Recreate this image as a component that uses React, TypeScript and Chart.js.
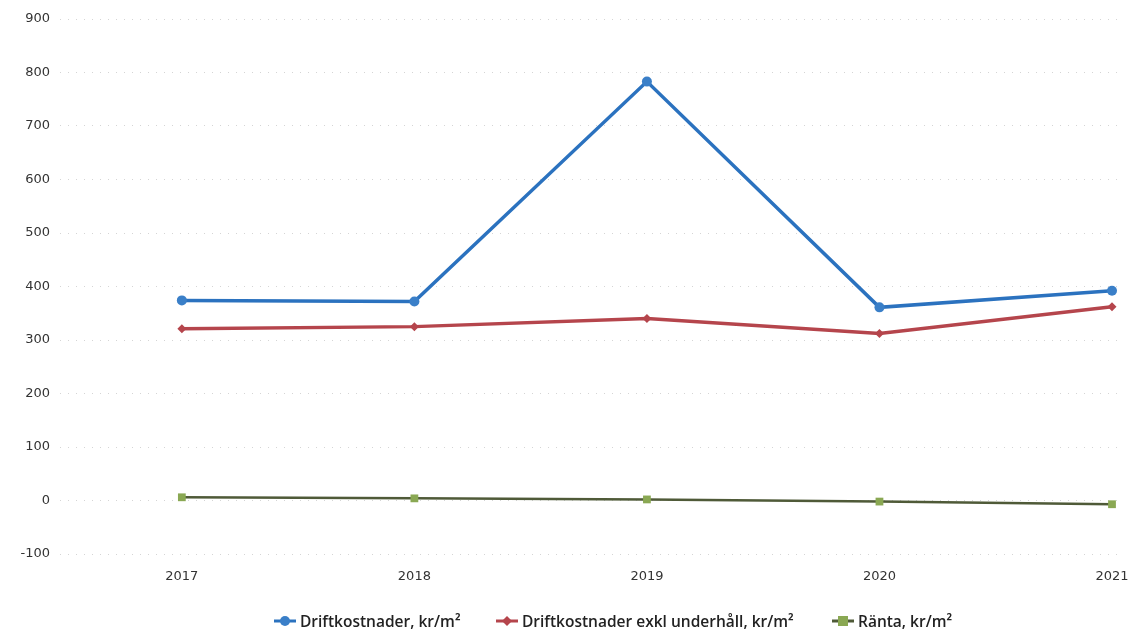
import React, { useEffect, useRef } from "react";
import { Chart, registerables } from "chart.js";

Chart.register(...registerables);

const years = [2017, 2018, 2019, 2020, 2021];
const driftkostnader = [374, 372, 783, 361, 392];
const driftExklUnderhall = [321, 325, 340, 312, 362];
const ranta = [6, 4, 2, -2, -7];
const yTicks = [-100, 0, 100, 200, 300, 400, 500, 600, 700, 800, 900];

const seriesLabels = [
  "Driftkostnader, kr/m²",
  "Driftkostnader exkl underhåll, kr/m²",
  "Ränta, kr/m²",
];
const seriesColors = ["#2b72bf", "#b5454c", "#4f5a38"];
const markerColors = ["#3a7fc8", "#b5454c", "#8aa853"];

const toPoints = (vals: number[]) => vals.map((v, i) => ({ x: years[i], y: v }));

function LegendMarker({ idx }: { idx: number }) {
  const c = markerColors[idx];
  return (
    <svg width={22} height={12} style={{ marginRight: 4, verticalAlign: "middle" }}>
      <line x1={0} y1={6} x2={22} y2={6} stroke={seriesColors[idx]} strokeWidth={3} />
      {idx === 0 && <circle cx={11} cy={6} r={5} fill={c} />}
      {idx === 1 && <polygon points="11,1 16,6 11,11 6,6" fill={c} />}
      {idx === 2 && <rect x={6} y={1} width={10} height={10} fill={c} />}
    </svg>
  );
}

export default function App() {
  const ref = useRef<HTMLCanvasElement | null>(null);
  useEffect(() => {
    document.body.style.margin = "0";
    const ctx = ref.current!.getContext("2d")!;
    const chart = new Chart(ctx, {
      type: "line",
      data: {
        datasets: [
          {
            label: seriesLabels[0],
            data: toPoints(driftkostnader),
            borderColor: seriesColors[0],
            backgroundColor: markerColors[0],
            borderWidth: 3.5,
            pointStyle: "circle",
            pointRadius: 5,
            pointBorderWidth: 0,
          },
          {
            label: seriesLabels[1],
            data: toPoints(driftExklUnderhall),
            borderColor: seriesColors[1],
            backgroundColor: markerColors[1],
            borderWidth: 3.5,
            pointStyle: "rectRot",
            pointRadius: 4.5,
            pointBorderWidth: 0,
          },
          {
            label: seriesLabels[2],
            data: toPoints(ranta),
            borderColor: seriesColors[2],
            backgroundColor: markerColors[2],
            borderWidth: 2.5,
            pointStyle: "rect",
            pointRadius: 5.5,
            pointBorderWidth: 0,
          },
        ],
      },
      options: {
        responsive: false,
        animation: false,
        layout: { padding: { left: 0, right: 7, top: 19, bottom: 0 } },
        plugins: {
          legend: { display: false },
          tooltip: { enabled: false },
        },
        scales: {
          x: {
            type: "linear",
            min: 2016.476,
            max: 2021.043,
            afterBuildTicks: (scale: any) => {
              scale.ticks = years.map((y) => ({ value: y }));
            },
            afterFit: (scale: any) => {
              scale.height = 78;
              scale.paddingLeft = 0;
              scale.paddingRight = 0;
            },
            grid: { display: false, drawTicks: false },
            border: { display: false },
            ticks: {
              padding: 15,
              color: "#333",
              font: { family: "'DejaVu Sans', sans-serif", size: 13 },
              callback: (v: any) => String(v),
            },
          },
          y: {
            min: -100,
            max: 900,
            afterBuildTicks: (scale: any) => {
              scale.ticks = yTicks.map((v) => ({ value: v }));
            },
            afterFit: (scale: any) => {
              scale.width = 60;
            },
            grid: {
              color: "rgba(150,150,150,0.4)",
              drawTicks: false,
            },
            border: { display: false, dash: [1, 7] },
            ticks: {
              padding: 10,
              color: "#333",
              font: { family: "'DejaVu Sans', sans-serif", size: 13 },
            },
          },
        },
      } as any,
    });
    return () => chart.destroy();
  }, []);
  const legendLefts = [274, 496, 832];
  return (
    <div style={{ position: "relative", width: 1129, height: 632, background: "#fff" }}>
      <canvas ref={ref} width={1129} height={632} style={{ display: "block" }} />
      {seriesLabels.map((lab, i) => (
        <div
          key={lab}
          style={{
            position: "absolute",
            left: legendLefts[i],
            top: 608,
            whiteSpace: "nowrap",
            fontFamily: "'Open Sans', sans-serif",
            fontWeight: 600,
            fontSize: 15.5,
            color: "#222",
            lineHeight: "22px",
          }}
        >
          <LegendMarker idx={i} />
          <span style={{ verticalAlign: "middle" }}>{lab}</span>
        </div>
      ))}
    </div>
  );
}
